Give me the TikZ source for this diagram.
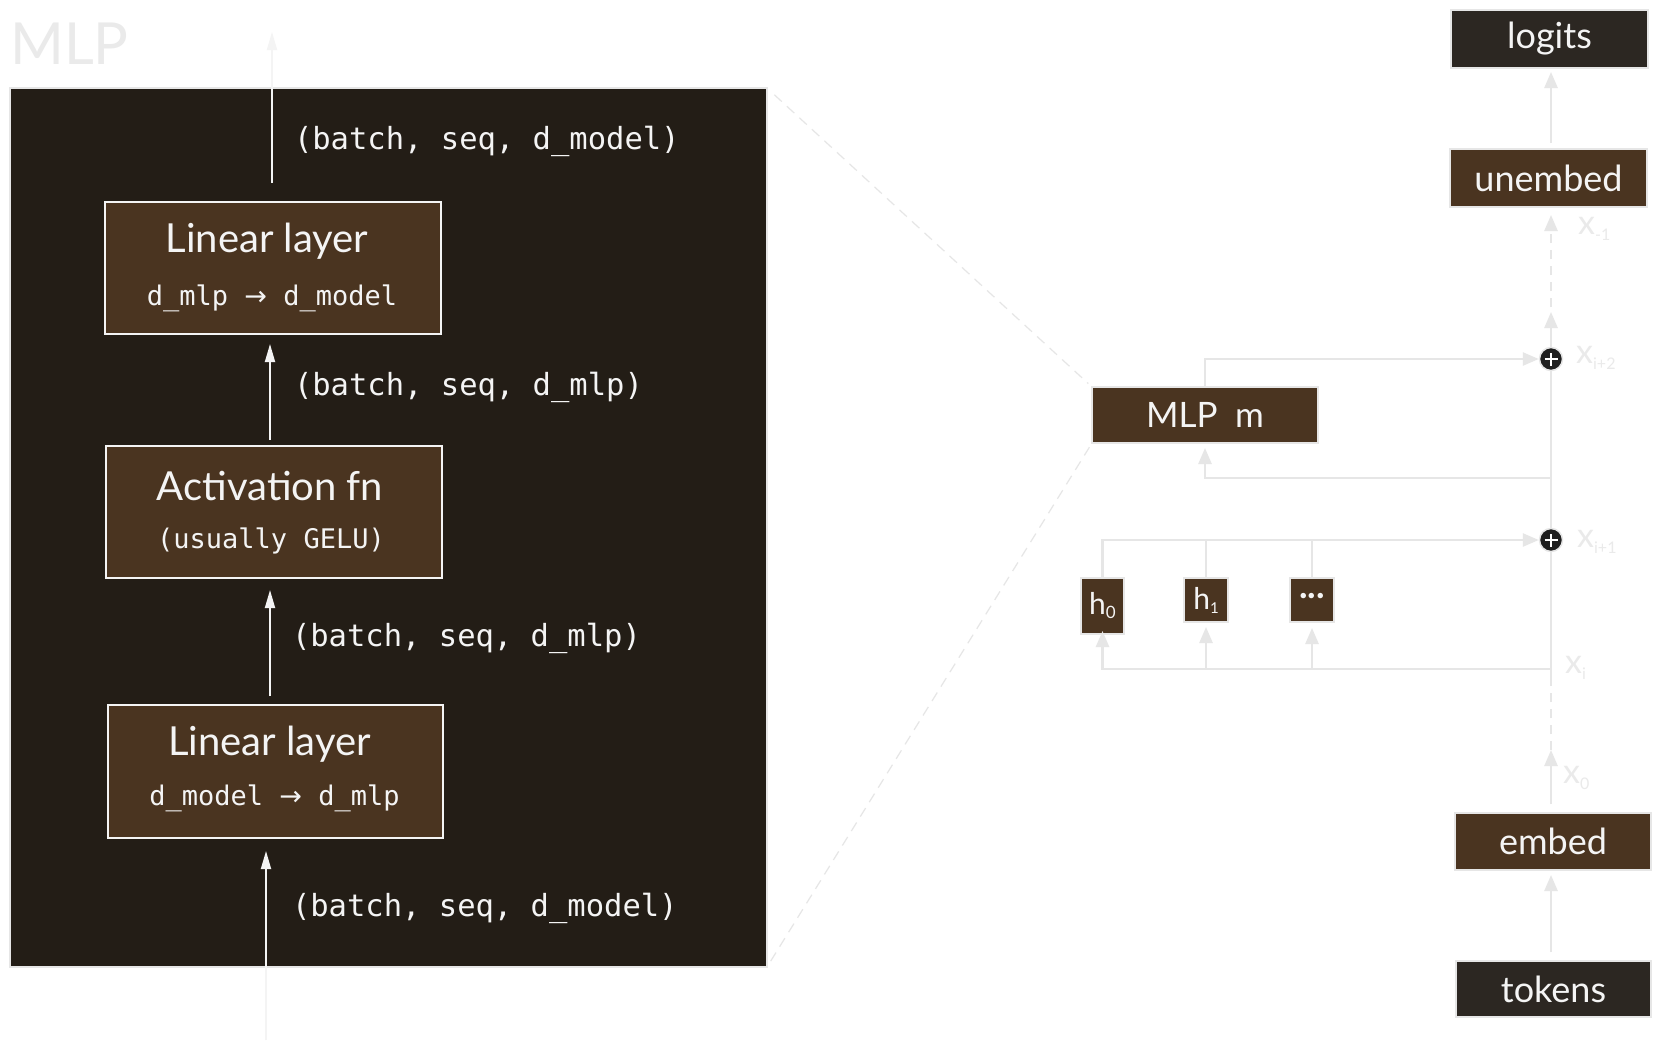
\documentclass[tikz,border=0pt]{standalone}
\usepackage{fontspec}
\setmainfont{Lato}
\newfontfamily\hand{Lato}
\newfontfamily\mono{DejaVu Sans Mono}
\newfontfamily\arrowfont{DejaVu Sans}
\usetikzlibrary{arrows.meta,calc}
\definecolor{panelbg}{HTML}{231D16}
\definecolor{brownbox}{HTML}{4A3420}
\definecolor{darkbox}{HTML}{2C2722}
\definecolor{linegray}{HTML}{E6E6E6}
\definecolor{faint}{HTML}{EAEAEA}
\definecolor{inkwhite}{HTML}{F4F4F4}
\definecolor{plusdark}{HTML}{1E1E1E}
\newcommand{\rarr}{{\arrowfont →}}
\begin{document}
\begin{tikzpicture}[x=1pt,y=-1pt,
  hw/.style={font=\hand\fontsize{#1}{#1}\selectfont},
  mo/.style={font=\mono\fontsize{#1}{#1}\selectfont},
  wh/.style 2 args={minimum width=#1pt, minimum height=#2pt},
  txt/.style={inner sep=0pt, outer sep=0pt, text=inkwhite},
  panelbox/.style={draw=linegray, line width=1.5pt, fill=panelbg, inner sep=0pt, outer sep=0pt},
  layerbox/.style={draw=inkwhite, line width=2pt, fill=brownbox, inner sep=0pt, outer sep=0pt},
  brownnode/.style={draw=linegray, line width=1.5pt, fill=brownbox, inner sep=0pt, outer sep=0pt, text=inkwhite},
  darknode/.style={draw=linegray, line width=1.5pt, fill=darkbox, inner sep=0pt, outer sep=0pt, text=inkwhite},
  parrow/.style={draw=inkwhite, line width=1.8pt, -{Triangle[length=18pt,width=10pt]}},
  flowline/.style={draw=linegray, line width=2.5pt},
  flow/.style={flowline, -{Triangle[length=16pt,width=13pt]}},
  dashflow/.style={flow, dash pattern=on 9pt off 7pt},
  zoomline/.style={draw=linegray, line width=1.2pt, dash pattern=on 10pt off 7pt},
  xlab/.style={anchor=west, inner sep=0pt, text=faint, hw=34},
  plusnode/.style={circle, fill=plusdark, draw=linegray, line width=1.5pt, minimum size=23pt, inner sep=0pt,
    path picture={\draw[white, line width=2.8pt]
      ([xshift=-6.5pt]path picture bounding box.center) -- ([xshift=6.5pt]path picture bounding box.center)
      ([yshift=-6.5pt]path picture bounding box.center) -- ([yshift=6.5pt]path picture bounding box.center);}}
]
\useasboundingbox (0,0) rectangle (1661,1047);
\fill[white] (0,0) rectangle (1661,1047);

% ---------- left: MLP detail ----------
\node[anchor=west, inner sep=0pt, text=faint, hw=58] (title) at (10,44) {MLP};
\node[panelbox, wh={757}{879}] (panel) at (388.5,527.5) {};

\node[layerbox, wh={336}{132}] (lin2) at (273,268) {};
\node[txt, hw=40] (lin2t) at ($(lin2.center)+(-6,-27)$) {Linear layer};
\node[txt, mo=27] (lin2s) at ($(lin2.center)+(-1,30)$) {d\_mlp \rarr\ d\_model};

\node[layerbox, wh={336}{132}] (act) at (274,512) {};
\node[txt, hw=40] (actt) at ($(act.center)+(-4,-26)$) {Activation fn};
\node[txt, mo=27] (acts) at ($(act.center)+(-3,29)$) {(usually GELU)};

\node[layerbox, wh={335}{133}] (lin1) at (275.5,771.5) {};
\node[txt, hw=40] (lin1t) at ($(lin1.center)+(-6,-27)$) {Linear layer};
\node[txt, mo=27] (lin1s) at ($(lin1.center)+(-1,27)$) {d\_model \rarr\ d\_mlp};

\node[txt, mo=30.5, anchor=west] (shape4) at (294,141) {(batch, seq, d\_model)};
\node[txt, mo=30.5, anchor=west] (shape3) at (294,387) {(batch, seq, d\_mlp)};
\node[txt, mo=30.5, anchor=west] (shape2) at (292,638) {(batch, seq, d\_mlp)};
\node[txt, mo=30.5, anchor=west] (shape1) at (292,908) {(batch, seq, d\_model)};

\coordinate (outTop) at (272,32);
\coordinate (ax) at (270,0);
\coordinate (inBot) at (266,1040);
\draw[parrow, shorten <=19pt] (lin2.north -| outTop) -- (outTop);
\draw[parrow, shorten <=6pt, shorten >=10pt] (act.north -| ax) -- (lin2.south -| ax);
\draw[parrow, shorten <=9pt, shorten >=12pt] (lin1.north -| ax) -- (act.south -| ax);
\draw[parrow, shorten >=13pt] (inBot) -- (inBot |- lin1.south);

% ---------- right: transformer overview ----------
\node[darknode, wh={197}{58}, hw=36] (logits) at (1549.5,39) {logits};
\node[brownnode, wh={197}{58}, hw=36] (unembed) at (1548.5,178) {unembed};
\node[brownnode, wh={196}{57}, hw=36] (embed) at (1553,841.5) {embed};
\node[darknode, wh={195}{56}, hw=36] (tokens) at (1553.5,989) {tokens};
\node[brownnode, wh={226}{56}, hw=35] (mlp) at (1205,415) {MLP\hspace{0.5em}m};

\node[brownnode, wh={43}{56}, hw=30] (h0) at (1102.5,606) {h\raisebox{-4pt}{\fontsize{17}{17}\selectfont 0}};
\node[brownnode, wh={44}{44}, hw=30] (h1) at (1206,600) {h\raisebox{-4pt}{\fontsize{15}{15}\selectfont 1}};
\node[brownnode, wh={44}{44}, font=\hand\bfseries\fontsize{36}{36}\selectfont] (hd) at (1312,600) {\raisebox{8pt}{...}};

\node[plusnode] (plus2) at (1551,359) {};
\node[plusnode] (plus1) at (1551,540) {};

\coordinate (rx) at (1551,0);
\coordinate (c0) at (1551,750);
\coordinate (ci) at (1551,680);
\coordinate (rm) at (1551,478);
\coordinate (rh) at (1551,669);
\coordinate (cu) at (1551,312);

% residual stream
\draw[flow, shorten <=9pt, shorten >=5pt] (tokens.north -| rx) -- (embed.south -| rx);
\draw[flow, shorten <=9pt] (embed.north -| rx) -- (c0);
\draw[flowline, dash pattern=on 9pt off 7pt] (c0) -- (ci);
\draw[flowline] (ci) -- (plus1.south);
\draw[flowline] (plus1.north) -- (plus2.south);
\draw[flow] (plus2.north) -- (cu);
\draw[dashflow, shorten <=5pt, shorten >=8pt] (cu) -- (unembed.south -| rx);
\draw[flow, shorten <=6pt, shorten >=4pt] (unembed.north -| rx) -- (logits.south -| rx);

% MLP branch
\draw[flow, shorten >=5pt] (rm) -| (mlp.south);
\draw[flow] (mlp.north) |- (plus2.west);

% attention heads branch
\draw[flow, shorten >=-3pt] (rh) -| (h0.south);
\draw[flow, shorten >=5pt] (rh -| h1.south) -- (h1.south);
\draw[flow, shorten >=6pt] (rh -| hd.south) -- (hd.south);
\draw[flow] (h0.north) |- (plus1.west);
\draw[flowline] (h1.north) -- (h1.north |- plus1.west);
\draw[flowline] (hd.north) -- (hd.north |- plus1.west);

% zoom lines
\draw[zoomline, shorten <=10pt, shorten >=5pt] (panel.north east) -- (mlp.north west);
\draw[zoomline, shorten <=7pt, shorten >=5pt] (panel.south east) -- (mlp.south west);

% stream labels
\node[xlab] (lxm1) at (1578,229) {x\raisebox{-6pt}{\fontsize{16}{16}\selectfont -1}};
\node[xlab] (lxi2) at (1576,358) {x\raisebox{-6pt}{\fontsize{16}{16}\selectfont i+2}};
\node[xlab] (lxi1) at (1577,542) {x\raisebox{-6pt}{\fontsize{16}{16}\selectfont i+1}};
\node[xlab] (lxi) at (1565,668) {x\raisebox{-6pt}{\fontsize{16}{16}\selectfont i}};
\node[xlab] (lx0) at (1563,778) {x\raisebox{-6pt}{\fontsize{16}{16}\selectfont 0}};
\end{tikzpicture}
\end{document}
